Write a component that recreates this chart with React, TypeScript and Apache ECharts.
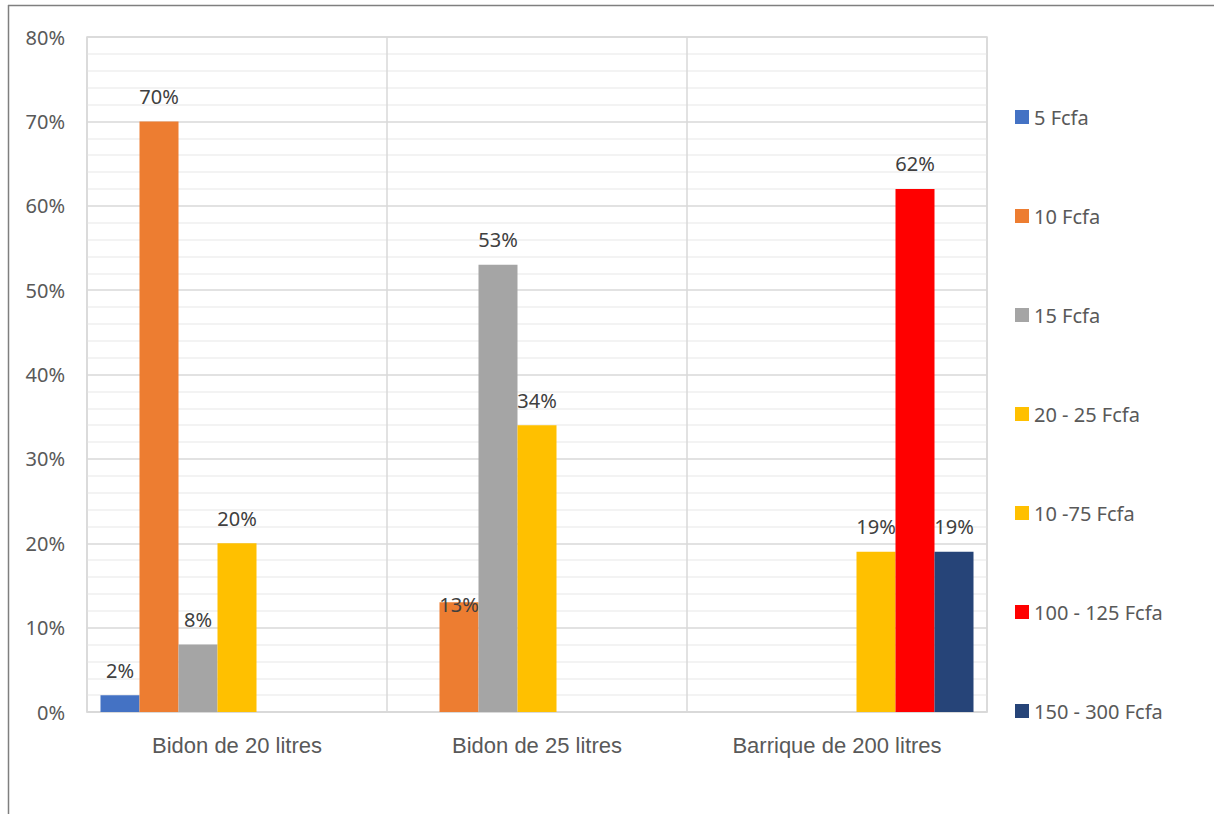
import React, { useEffect, useRef } from "react";
import * as echarts from "echarts";

// Containers and price bands (share of answers, in %)
const categories = ["Bidon de 20 litres", "Bidon de 25 litres", "Barrique de 200 litres"];
const seriesNames = [
  "5 Fcfa",
  "10 Fcfa",
  "15 Fcfa",
  "20 - 25 Fcfa",
  "10 -75 Fcfa",
  "100 - 125 Fcfa",
  "150 - 300 Fcfa",
];
const fcfa5 = [2, null, null];
const fcfa10 = [70, 13, null];
const fcfa15 = [8, 53, null];
const fcfa20to25 = [20, 34, null];
const fcfa10to75 = [null, null, 19];
const fcfa100to125 = [null, null, 62];
const fcfa150to300 = [null, null, 19];
const seriesValues = [fcfa5, fcfa10, fcfa15, fcfa20to25, fcfa10to75, fcfa100to125, fcfa150to300];
const colors = ["#4472C4", "#ED7D31", "#A5A5A5", "#FFC000", "#FFC000", "#FF0000", "#264478"];

const FONT = "'Noto Sans', 'Open Sans', sans-serif";

export default function App() {
  const ref = useRef<HTMLDivElement>(null);

  useEffect(() => {
    if (!ref.current) return;
    const chart = echarts.init(ref.current, null, { renderer: "svg" });

    const series = seriesValues.map((vals, si) => ({
      name: seriesNames[si],
      type: "bar",
      barGap: "0%",
      barCategoryGap: "9%",
      itemStyle: { color: colors[si] },
      label: {
        show: true,
        position: "top",
        distance: 15,
        formatter: "{c}%",
        color: "#404040",
        fontSize: 20,
        fontFamily: FONT,
      },
      data: vals.map((v, ci) => {
        // the 13% label of the 25 L can sits on the bar's top edge
        if (si === 1 && ci === 1) return { value: v, label: { offset: [0, 27] } };
        return v;
      }),
    }));

    chart.setOption({
      animation: false,
      backgroundColor: "#ffffff",
      grid: {
        left: 87,
        top: 37,
        width: 900,
        height: 675,
        show: true,
        borderColor: "#d9d9d9",
        borderWidth: 1.5,
      },
      legend: {
        orient: "vertical",
        left: 1015,
        top: 107,
        padding: 0,
        itemWidth: 14,
        itemHeight: 14,
        itemGap: 79,
        icon: "rect",
        textStyle: { color: "#595959", fontSize: 20, fontFamily: FONT, lineHeight: 20 },
        data: seriesNames,
      },
      xAxis: {
        type: "category",
        data: categories,
        axisLine: { show: true, lineStyle: { color: "#d9d9d9", width: 1.5 } },
        axisTick: { show: false, interval: 0 },
        splitLine: { show: true, interval: 0, lineStyle: { color: "#d9d9d9", width: 1.5 } },
        axisLabel: {
          interval: 0,
          color: "#595959",
          fontSize: 22,
          fontFamily: "'Liberation Sans', Arial, sans-serif",
          margin: 22,
        },
      },
      yAxis: {
        type: "value",
        min: 0,
        max: 80,
        interval: 10,
        axisLine: { show: false },
        axisTick: { show: false },
        axisLabel: {
          formatter: "{value}%",
          color: "#595959",
          fontSize: 20,
          fontFamily: FONT,
          margin: 22,
        },
        splitLine: { show: true, lineStyle: { color: "#d9d9d9", width: 1.5 } },
        minorTick: { show: false, splitNumber: 5 },
        minorSplitLine: { show: true, lineStyle: { color: "#efefef", width: 1.5 } },
      },
      graphic: [
        {
          type: "line",
          shape: { x1: 8.5, y1: 5, x2: 8.5, y2: 814 },
          style: { stroke: "#7f7f7f", lineWidth: 1.5 },
          silent: true,
        },
        {
          type: "line",
          shape: { x1: 8, y1: 5.5, x2: 1214, y2: 5.5 },
          style: { stroke: "#7f7f7f", lineWidth: 1.5 },
          silent: true,
        },
      ],
      series,
    });

    return () => chart.dispose();
  }, []);

  return (
    <div
      ref={ref}
      style={{ position: "absolute", left: 0, top: 0, width: 1214, height: 814 }}
    />
  );
}
